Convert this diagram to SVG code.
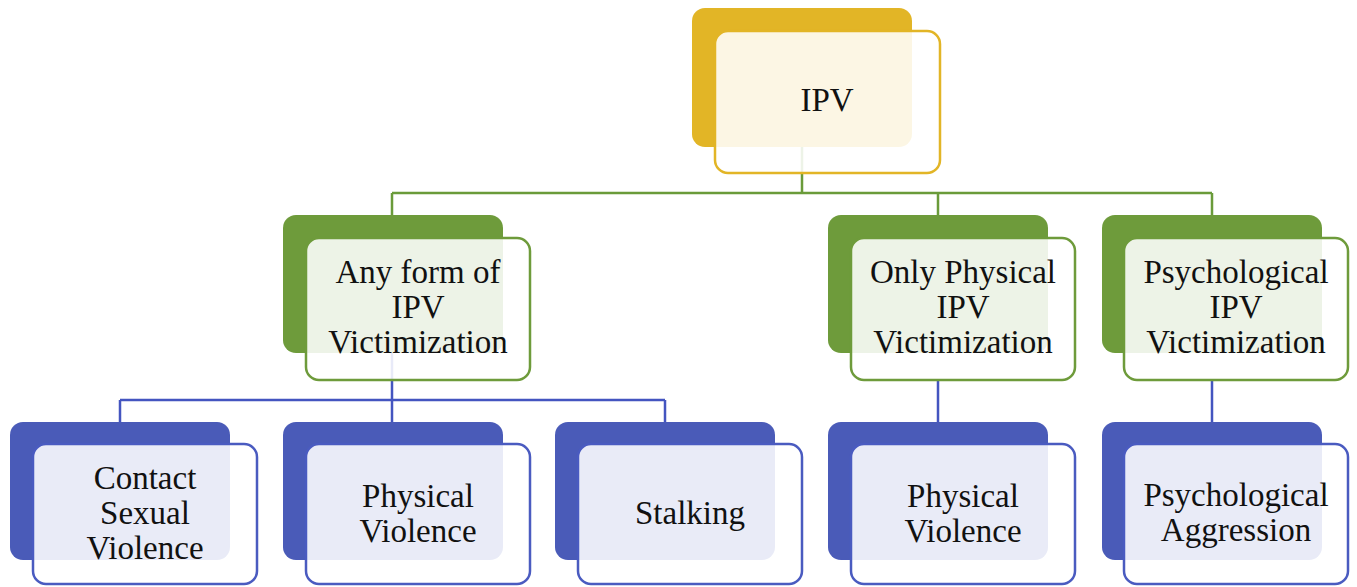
<svg xmlns="http://www.w3.org/2000/svg" width="1357" height="587" viewBox="0 0 1357 587">
<style>
.bk{stroke:none}
.fr{fill:#fff;fill-opacity:0.88;stroke-width:2.5}
.gold .bk{fill:#E2B526}.gold .fr{stroke:#E2B526}
.green .bk{fill:#6E9B3B}.green .fr{stroke:#6E9B3B}
.blue .bk{fill:#4A5BB8}.blue .fr{stroke:#4A5BC0}
text{font-family:"Liberation Serif","Times New Roman",serif;font-size:33px;fill:#111;text-anchor:middle}
.cg{stroke:#6A9B3A;stroke-width:2.5;fill:none}
.cb{stroke:#4455C0;stroke-width:2.5;fill:none}
</style>
<rect width="1357" height="587" fill="#fff"/>
<g id="connectors">
<path class="cg" d="M802 146V193M392 193H1212M392 193V215M938 193V215M1212 193V215"/>
<path class="cb" d="M392 353V400M120 400H665M120 400V422M392 400V422M665 400V422M938 380V422M1212 380V422"/>
</g>
<g id="ipv" class="gold">
<rect class="bk" x="692" y="8" width="220" height="139" rx="13"/>
<rect class="fr" x="715" y="31" width="225" height="142" rx="13"/>
<text x="827" y="111">IPV</text>
</g>
<g id="any-form" class="green">
<rect class="bk" x="283" y="215" width="220" height="138" rx="13"/>
<rect class="fr" x="306" y="238" width="224" height="142" rx="13"/>
<text x="418" y="283">Any form of</text>
<text x="418" y="318">IPV</text>
<text x="418" y="353">Victimization</text>
</g>
<g id="only-physical" class="green">
<rect class="bk" x="828" y="215" width="220" height="138" rx="13"/>
<rect class="fr" x="851" y="238" width="224" height="142" rx="13"/>
<text x="963" y="283">Only Physical</text>
<text x="963" y="318">IPV</text>
<text x="963" y="353">Victimization</text>
</g>
<g id="psychological-ipv" class="green">
<rect class="bk" x="1102" y="215" width="220" height="138" rx="13"/>
<rect class="fr" x="1124" y="238" width="224" height="142" rx="13"/>
<text x="1236" y="283">Psychological</text>
<text x="1236" y="318">IPV</text>
<text x="1236" y="353">Victimization</text>
</g>
<g id="contact-sexual" class="blue">
<rect class="bk" x="10" y="422" width="220" height="138" rx="13"/>
<rect class="fr" x="33" y="444" width="224" height="140" rx="13"/>
<text x="145" y="489">Contact</text>
<text x="145" y="524">Sexual</text>
<text x="145" y="559">Violence</text>
</g>
<g id="physical-violence-1" class="blue">
<rect class="bk" x="283" y="422" width="220" height="138" rx="13"/>
<rect class="fr" x="306" y="444" width="224" height="140" rx="13"/>
<text x="418" y="507">Physical</text>
<text x="418" y="542">Violence</text>
</g>
<g id="stalking" class="blue">
<rect class="bk" x="555" y="422" width="220" height="138" rx="13"/>
<rect class="fr" x="578" y="444" width="224" height="140" rx="13"/>
<text x="690" y="524">Stalking</text>
</g>
<g id="physical-violence-2" class="blue">
<rect class="bk" x="828" y="422" width="220" height="138" rx="13"/>
<rect class="fr" x="851" y="444" width="224" height="140" rx="13"/>
<text x="963" y="507">Physical</text>
<text x="963" y="542">Violence</text>
</g>
<g id="psychological-aggression" class="blue">
<rect class="bk" x="1102" y="422" width="220" height="138" rx="13"/>
<rect class="fr" x="1124" y="444" width="224" height="140" rx="13"/>
<text x="1236" y="506">Psychological</text>
<text x="1236" y="541">Aggression</text>
</g>
</svg>
